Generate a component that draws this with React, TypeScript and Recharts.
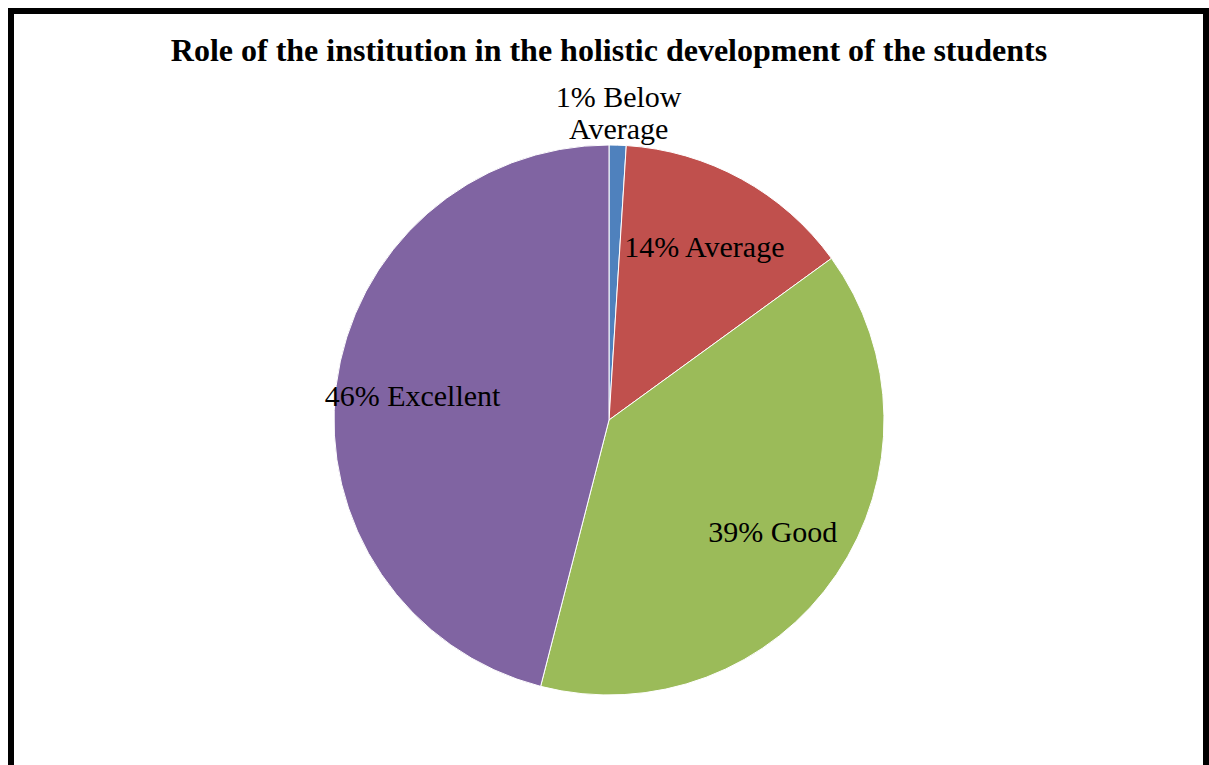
import { PieChart, Pie, Cell } from "recharts"

const categories = ["Below Average", "Average", "Good", "Excellent"]
const percents = [1, 14, 39, 46]
const COLORS = ["#4F81BD", "#C0504D", "#9BBB59", "#8064A2"]

const data = categories.map((name, i) => ({ name, value: percents[i] }))

const RAD = Math.PI / 180
const FONT = "'Liberation Serif', 'Times New Roman', serif"

const renderLabel = (props: any) => {
  const { cx, cy, midAngle, outerRadius, value, name } = props
  if (value < 5) {
    // tiny slice: label sits outside, split on two lines
    const r = outerRadius + 32
    const x = cx + r * Math.cos(-midAngle * RAD)
    const y = cy + r * Math.sin(-midAngle * RAD)
    const words = String(name).split(" ")
    return (
      <text x={x} y={y} textAnchor="middle" fontFamily={FONT} fontSize={30} fill="#000">
        <tspan x={x} dy={-6}>{`${value}% ${words[0]}`}</tspan>
        <tspan x={x} dy={32}>{words.slice(1).join(" ")}</tspan>
      </text>
    )
  }
  const r = outerRadius * 0.72
  const x = cx + r * Math.cos(-midAngle * RAD)
  const y = cy + r * Math.sin(-midAngle * RAD)
  return (
    <text x={x} y={y} textAnchor="middle" dominantBaseline="central" fontFamily={FONT} fontSize={30} fill="#000">
      {`${value}% ${name}`}
    </text>
  )
}

export default function App() {
  return (
    <div>
      <div
        style={{
          position: "fixed",
          left: 8,
          top: 8,
          width: 1189,
          height: 800,
          borderTop: "6px solid #000",
          borderLeft: "6px solid #000",
          borderRight: "6px solid #000",
          background: "#fff",
        }}
      />
      <div style={{ position: "fixed", left: 0, top: 0 }}>
        <PieChart width={1209} height={765} margin={{ top: 0, right: 0, left: 0, bottom: 0 }}>
          <text
            x={609}
            y={61}
            textAnchor="middle"
            fontFamily={FONT}
            fontWeight="bold"
            fontSize={32}
            fill="#000"
          >
            Role of the institution in the holistic development of the students
          </text>
          <Pie
            data={data}
            dataKey="value"
            nameKey="name"
            cx={609}
            cy={420}
            outerRadius={275}
            startAngle={90}
            endAngle={-270}
            stroke="#fff"
            strokeWidth={1}
            label={renderLabel}
            labelLine={false}
            isAnimationActive={false}
          >
            {data.map((entry, index) => (
              <Cell key={entry.name} fill={COLORS[index]} />
            ))}
          </Pie>
        </PieChart>
      </div>
    </div>
  )
}
